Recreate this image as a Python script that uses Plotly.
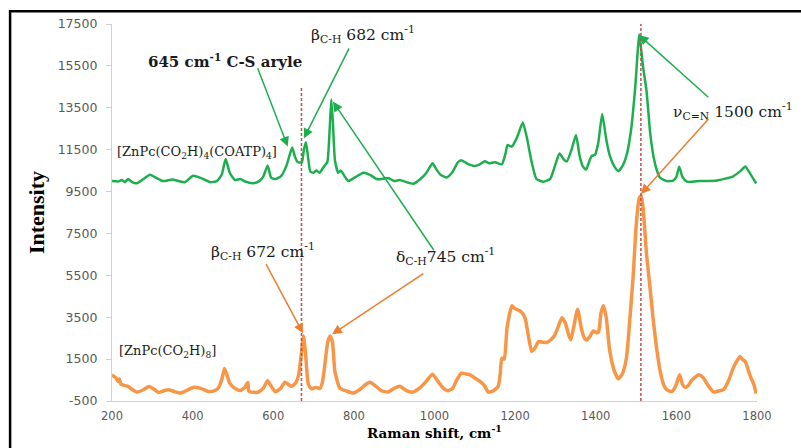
import plotly.graph_objects as go

# ---------------- data ----------------
green_x = [200, 215, 225, 232, 240, 250, 262, 278, 294, 310, 327, 350, 365, 381, 401, 420, 443, 460, 472, 482,
           492, 505, 518, 530, 550, 565, 575, 586, 595, 607, 620, 633, 640, 647, 654, 661, 671, 676, 681, 686,
           692, 700, 707, 715, 726, 734, 740, 744, 748, 753, 761, 768, 778, 786, 805, 823, 840, 856, 870, 885,
           900, 914, 930, 947, 965, 980, 995, 1005, 1015, 1030, 1045, 1058, 1066, 1080, 1100, 1112, 1125, 1135,
           1150, 1167, 1176, 1181, 1192, 1205, 1219, 1230, 1240, 1253, 1270, 1287, 1300, 1310, 1320, 1328, 1340,
           1351, 1360, 1368, 1376, 1385, 1390, 1398, 1406, 1416, 1426, 1435, 1446, 1456, 1466, 1476, 1488, 1498,
           1508, 1517, 1526, 1535, 1543, 1551, 1559, 1576, 1592, 1600, 1607, 1615, 1626, 1659, 1700, 1741, 1760,
           1771, 1780, 1798]
green_y = [10000, 9980, 10050, 9950, 10100, 9950, 9900, 10100, 10300, 10150, 10000, 10080, 10000, 9950, 10250,
           10150, 9950, 10000, 10300, 11050, 10400, 10050, 10100, 9980, 9900, 10000, 10200, 10750, 10150, 10100,
           10250, 10750, 11200, 11600, 11150, 10900, 10900, 11500, 11850, 11200, 10450, 10400, 10500, 10400,
           10700, 10900, 12500, 13900, 12800, 11000, 10400, 10500, 10200, 10000, 10200, 10400, 10300, 10100,
           10100, 10150, 10000, 10050, 9950, 9870, 10100, 10400, 10850, 10550, 10300, 10170, 10450, 10900, 11000,
           10850, 10720, 10800, 10950, 10850, 10900, 10800, 11300, 11720, 11650, 12100, 12800, 12000, 11000,
           10100, 9970, 10100, 10800, 11320, 11050, 10930, 11500, 12200, 11200, 10700, 10550, 11000, 11200, 11250,
           11800, 13200, 12000, 11200, 10700, 10480, 10700, 11200, 12500, 14500, 17000, 15500, 14300, 12300,
           11200, 10550, 10170, 10000, 10020, 10200, 10680, 10200, 9970, 10000, 10030, 10230, 10500, 10700, 10450,
           9880]

orange_x = [200, 210, 215, 218, 222, 240, 250, 262, 278, 292, 305, 315, 330, 340, 355, 369, 385, 401, 420, 438,
            455, 463, 472, 479, 486, 492, 505, 517, 530, 533, 537, 540, 562, 575, 586, 595, 605, 618, 629, 637,
            645, 655, 663, 670, 675, 680, 687, 695, 705, 716, 722, 728, 735, 741, 747, 753, 765, 781, 798, 815,
            830, 840, 855, 868, 885, 900, 914, 930, 947, 965, 980, 995, 1010, 1022, 1034, 1045, 1055, 1067, 1080,
            1088, 1100, 1113, 1125, 1133, 1145, 1158, 1163, 1167, 1173, 1180, 1192, 1200, 1209, 1218, 1225, 1233,
            1241, 1250, 1258, 1270, 1279, 1290, 1297, 1306, 1316, 1325, 1332, 1338, 1345, 1355, 1365, 1372, 1378,
            1386, 1394, 1402, 1407, 1413, 1419, 1426, 1434, 1445, 1456, 1466, 1476, 1485, 1493, 1500, 1508, 1513,
            1518, 1526, 1534, 1543, 1551, 1560, 1568, 1576, 1588, 1598, 1608, 1615, 1622, 1630, 1638, 1655, 1667,
            1680, 1692, 1705, 1717, 1730, 1741, 1750, 1758, 1765, 1770, 1783, 1792, 1798]
orange_y = [750, 600, 434, 550, 300, 196, 50, -73, 38, 196, 50, -89, 0, 38, -50, -120, 0, 148, 100, -40,
            0, 100, 500, 1050, 700, 355, 100, 0, 150, 275, 386, -50, -80, 100, 465, 200, -60, 100, 400, 300,
            196, 350, 750, 1800, 2600, 1800, 300, 80, 150, 100, 400, 1230, 2300, 2600, 2300, 900, 117, -20, -120, 50,
            300, 400, 200, -10, -70, 100, 199, 0, -73, 150, 450, 783, 400, 100, -10, 100, 500, 830, 780,
            750, 600, 434, 200, -73, -20, 196, 800, 1543, 1500, 3000, 4045, 3900, 3835, 3700, 3440, 2600,
            1862, 2050, 2335, 2300, 2300, 2450, 2600, 3000, 3476, 3200, 2700, 2414, 3000, 3885, 2900, 2500, 2414,
            2600, 2840, 2760, 2800, 3700, 4045, 3500, 2000, 1000, 560, 800, 1543, 3500, 5500, 7800, 9200, 9300,
            8600, 6500, 5025, 3300, 2018, 900, 300, 38, -50, 200, 750, 300, 150, 250, 485, 750, 600,
            200, -73, -20, 38, 500, 1070, 1400, 1624, 1450, 1420, 700, 300, -150]

y_ticks = [-500, 1500, 3500, 5500, 7500, 9500, 11500, 13500, 15500, 17500]
y_tick_labels = ["-500", "1500", "3500", "5500", "7500", "9500", "11500", "13500", "15500", "17500"]
x_ticks = [200, 400, 600, 800, 1000, 1200, 1400, 1600, 1800]
x_tick_labels = ["200", "400", "600", "800", "1000", "1200", "1400", "1600", "1800"]

ref_lines = [670, 1512]
ref_tops = [14500, 17550]

GREEN = "#1daf4e"
ORANGE = "#f79646"
ARROW_OR = "#ed7d31"
SERIF = "DejaVu Serif"

fig = go.Figure()
fig.add_trace(go.Scatter(x=green_x, y=green_y, mode="lines",
                         line=dict(color=GREEN, width=2.5, shape="spline", smoothing=0.5),
                         hoverinfo="skip", showlegend=False))
fig.add_trace(go.Scatter(x=orange_x, y=orange_y, mode="lines",
                         line=dict(color=ORANGE, width=3.5, shape="spline", smoothing=0.5),
                         hoverinfo="skip", showlegend=False))

for xv, top in zip(ref_lines, ref_tops):
    fig.add_shape(type="line", x0=xv, x1=xv, y0=-500, y1=top, xref="x", yref="y",
                  line=dict(color="#c0504d", width=1.5, dash="3px,2px"))

# frame (only left and top edges visible in the crop)
fig.add_shape(type="rect", xref="paper", yref="paper", x0=-0.158, x1=1.3, y0=-0.3, y1=1.034,
              line=dict(color="black", width=2.5), layer="below")

ann = []
def text(x, y, t, size=14, bold=False):
    ann.append(dict(x=x, y=y, xref="x", yref="y", text=(f"<b>{t}</b>" if bold else t),
                    showarrow=False, font=dict(family=SERIF, size=size, color="#1a1a1a"),
                    xanchor="center", yanchor="middle"))

def arrow(tx, ty, hx, hy, color, width=1.5):
    ann.append(dict(x=hx, y=hy, ax=tx, ay=ty, xref="x", yref="y", axref="x", ayref="y",
                    text="", showarrow=True, arrowhead=2, arrowsize=1.3, arrowwidth=width,
                    arrowcolor=color, standoff=0, startstandoff=0))

text(480, 15743, "645 cm<sup>-1</sup> C-S aryle", size=15, bold=True)
text(822, 16978, "β<sub>C-H</sub> 682 cm<sup>-1</sup>", size=15.5)
text(1028, 6387, "δ<sub>C-H</sub>745 cm<sup>-1</sup>", size=15.5)
text(575, 6624, "β<sub>C-H</sub> 672 cm<sup>-1</sup>", size=15.5)
text(1740, 13321, "ν<sub>C=N</sub> 1500 cm<sup>-1</sup>", size=15.5)
text(410, 11374, "[ZnPc(CO<sub>2</sub>H)<sub>4</sub>(COATP)<sub>4</sub>]", size=13)
text(338, 1875, "[ZnPc(CO<sub>2</sub>H)<sub>8</sub>]", size=13)

arrow(560, 15458, 636, 11650, GREEN)
arrow(790, 16408, 676, 12038, GREEN)
arrow(1001, 6624, 748, 13796, GREEN)
arrow(976, 5627, 746, 2683, ARROW_OR)
arrow(580, 6102, 674, 2730, ARROW_OR)
arrow(1683, 13938, 1507, 16978, GREEN)
arrow(1683, 13036, 1512, 9379, ARROW_OR)

fig.update_layout(
    width=801, height=448,
    margin=dict(l=112, r=44, t=24, b=45),
    paper_bgcolor="white", plot_bgcolor="white",
    annotations=ann,
    xaxis=dict(range=[200, 1800], tickvals=x_ticks, ticktext=x_tick_labels, showgrid=False, zeroline=False,
               showline=True, linecolor="#d0d0d0", linewidth=1.2, ticks="", ticklabelstandoff=4,
               tickfont=dict(family="DejaVu Sans", size=11.5, color="#595959"),
               title=dict(text="<b>Raman shift, cm<sup>-1</sup></b>", standoff=4,
                          font=dict(family=SERIF, size=13.5, color="black"))),
    yaxis=dict(range=[-500, 17500], tickvals=y_ticks, ticktext=y_tick_labels, showgrid=False, zeroline=False,
               showline=True, linecolor="#d0d0d0", linewidth=1.2, ticks="outside", ticklen=5,
               tickcolor="#d0d0d0", ticklabelstandoff=6,
               tickfont=dict(family="DejaVu Sans", size=12.5, color="#595959"),
               title=dict(text="<b>Intensity</b>", standoff=6,
                          font=dict(family="Liberation Serif", size=22, color="black"))),
)

fig.write_html("out.html")
